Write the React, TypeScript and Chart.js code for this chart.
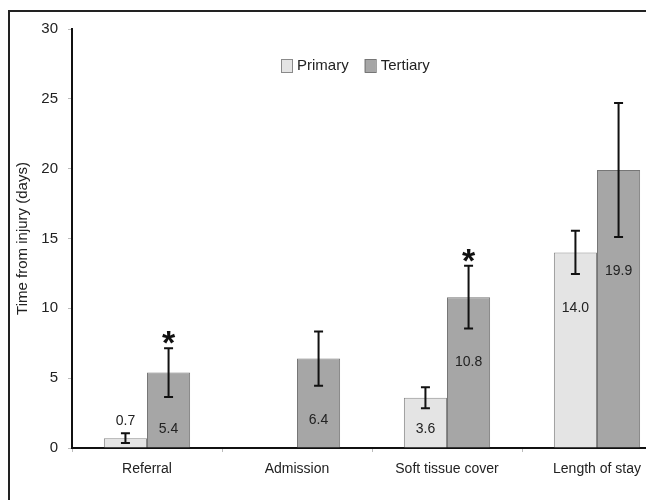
import React, { useEffect, useRef } from "react";
import { Chart, registerables } from "chart.js";

Chart.register(...registerables);

const categories = ["Referral", "Admission", "Soft tissue cover", "Length of stay"];
const seriesNames = ["Primary", "Tertiary"];
const primaryValues: (number | null)[] = [0.7, null, 3.6, 14.0];
const tertiaryValues: (number | null)[] = [5.4, 6.4, 10.8, 19.9];
const primaryErrors: (number | null)[] = [0.35, null, 0.75, 1.55];
const tertiaryErrors: (number | null)[] = [1.75, 1.95, 2.25, 4.8];
const tertiarySignificant = [true, false, true, false];
const yMin = 0;
const yMax = 30;
const yStep = 5;
const yTitle = "Time from injury (days)";

const FONT = "'Liberation Sans', Arial, Helvetica, sans-serif";
const primaryFill = "#e4e4e4";
const primaryBorder = "#8a8a8a";
const tertiaryFill = "#a6a6a6";
const tertiaryBorder = "#767676";

const overlayPlugin = {
  id: "overlay",
  afterDatasetsDraw(chart: any) {
    const ctx = chart.ctx as CanvasRenderingContext2D;
    const y = chart.scales.y;
    const base = y.getPixelForValue(0);
    const errs = [primaryErrors, tertiaryErrors];
    chart.data.datasets.forEach((ds: any, di: number) => {
      const meta = chart.getDatasetMeta(di);
      meta.data.forEach((bar: any, i: number) => {
        const v = ds.data[i];
        const e = errs[di][i];
        if (v == null || e == null) return;
        const x = bar.x;
        const top = y.getPixelForValue(v + e);
        const bot = y.getPixelForValue(v - e);
        ctx.save();
        ctx.strokeStyle = "#111";
        ctx.lineWidth = 2;
        ctx.beginPath();
        ctx.moveTo(x, top);
        ctx.lineTo(x, bot);
        ctx.moveTo(x - 4.5, top);
        ctx.lineTo(x + 4.5, top);
        ctx.moveTo(x - 4.5, bot);
        ctx.lineTo(x + 4.5, bot);
        ctx.stroke();
        ctx.font = `14px ${FONT}`;
        ctx.fillStyle = "#222";
        ctx.textAlign = "center";
        ctx.textBaseline = "middle";
        const barTop = y.getPixelForValue(v);
        let ly: number;
        if (base - barTop < 25) ly = top - 12;
        else ly = Math.min(bot + 34, base - 19);
        ctx.fillText(v.toFixed(1), x, ly);
        if (di === 1 && tertiarySignificant[i]) {
          ctx.font = `bold 34px ${FONT}`;
          ctx.textBaseline = "alphabetic";
          ctx.fillStyle = "#111";
          ctx.fillText("*", x, top + 6);
        }
        ctx.restore();
      });
    });
    // legend
    ctx.save();
    ctx.font = `15px ${FONT}`;
    ctx.textBaseline = "middle";
    ctx.textAlign = "left";
    let lx = 281;
    const boxTop = 59;
    chart.data.datasets.forEach((ds: any) => {
      ctx.fillStyle = ds.backgroundColor;
      ctx.fillRect(lx, boxTop, 11, 13);
      ctx.strokeStyle = ds.borderColor;
      ctx.lineWidth = 1;
      ctx.strokeRect(lx + 0.5, boxTop + 0.5, 11, 13);
      ctx.fillStyle = "#222";
      ctx.fillText(ds.label, lx + 16, boxTop + 7);
      lx += 16 + ctx.measureText(ds.label).width + 16;
    });
    ctx.restore();
  },
};

export default function App() {
  const ref = useRef<HTMLCanvasElement | null>(null);
  useEffect(() => {
    if (!ref.current) return;
    const chart = new Chart(ref.current, {
      type: "bar",
      data: {
        labels: categories,
        datasets: [
          {
            label: seriesNames[0],
            data: primaryValues,
            backgroundColor: primaryFill,
            borderColor: primaryBorder,
            borderWidth: 1,
          },
          {
            label: seriesNames[1],
            data: tertiaryValues,
            backgroundColor: tertiaryFill,
            borderColor: tertiaryBorder,
            borderWidth: 1,
          },
        ],
      },
      options: {
        responsive: false,
        animation: false,
        devicePixelRatio: 1,
        layout: { padding: { top: 29, right: 8, left: 0, bottom: 0 } },
        datasets: { bar: { categoryPercentage: 0.575, barPercentage: 1.0 } },
        plugins: { legend: { display: false }, tooltip: { enabled: false } },
        scales: {
          x: {
            grid: { drawOnChartArea: false, drawTicks: true, tickLength: 4, color: "#bbb", offset: true },
            border: { display: true, color: "#111", width: 2 },
            ticks: { color: "#222", font: { family: FONT, size: 14 }, padding: 9, maxRotation: 0, autoSkip: false },
            afterFit: (s: any) => { s.height = 52; },
          },
          y: {
            min: yMin,
            max: yMax,
            grid: { drawOnChartArea: false, drawTicks: true, tickLength: 4, color: "#bbb" },
            border: { display: true, color: "#111", width: 2 },
            ticks: { stepSize: yStep, color: "#222", font: { family: FONT, size: 15 }, padding: 10 },
            title: { display: true, text: yTitle, color: "#222", font: { family: FONT, size: 15 }, padding: { top: 14, bottom: 0 } },
            afterFit: (s: any) => { s.width = 72; },
          },
        },
      },
      plugins: [overlayPlugin],
    });
    return () => chart.destroy();
  }, []);
  return (
    <div style={{ position: "fixed", left: 0, top: 0, width: 646, height: 500, overflow: "hidden", background: "#fff" }}>
      <div style={{ position: "absolute", left: 8, top: 10, width: 700, height: 600, border: "2px solid #222" }} />
      <canvas ref={ref} width={680} height={500} style={{ position: "absolute", left: 0, top: 0, width: 680, height: 500 }} />
    </div>
  );
}
